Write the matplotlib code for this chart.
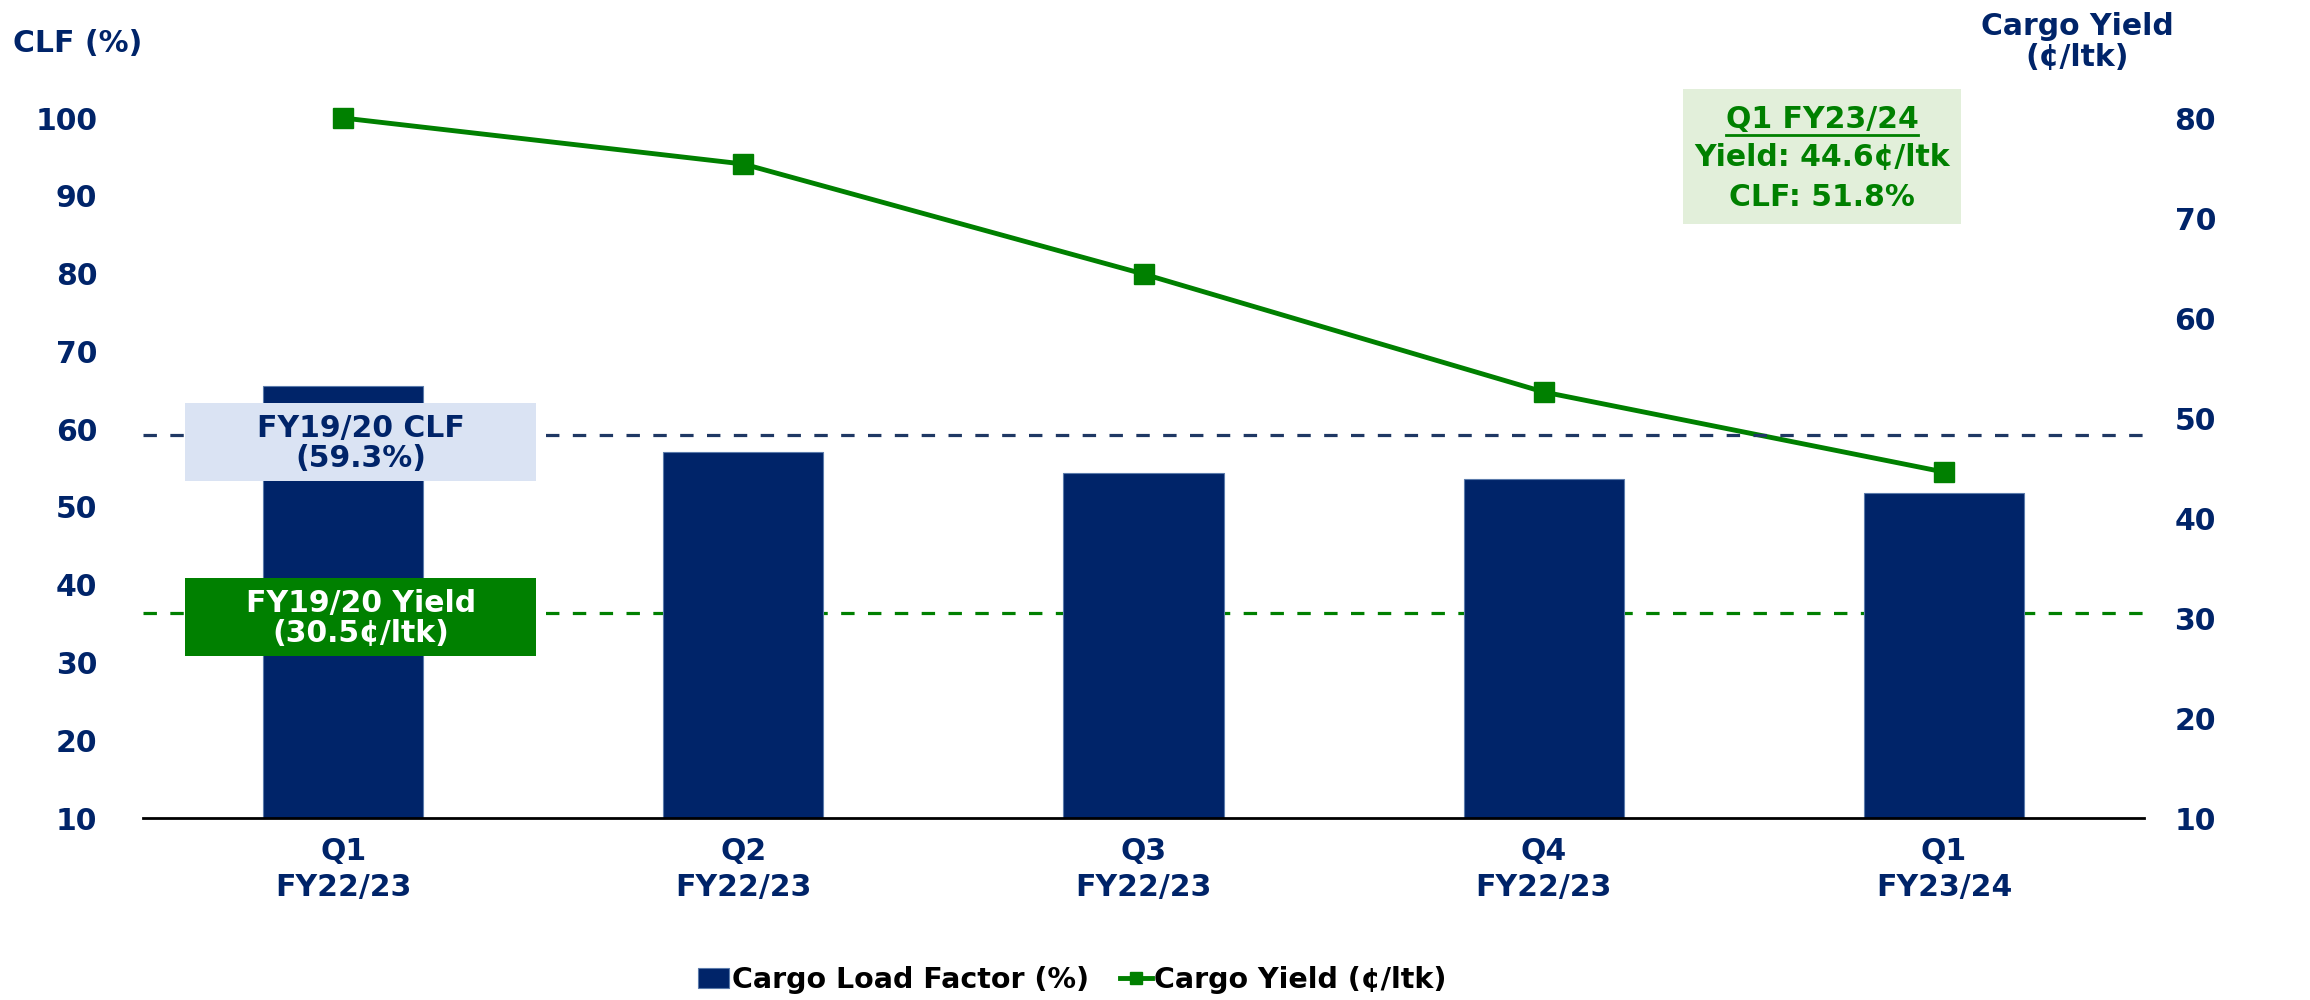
import matplotlib.pyplot as plt
from matplotlib.patches import Rectangle
from matplotlib.lines import Line2D

# data
quarters = ['Q1\nFY22/23', 'Q2\nFY22/23', 'Q3\nFY22/23', 'Q4\nFY22/23', 'Q1\nFY23/24']
cargo_load_factor = [65.6, 57.0, 54.3, 53.6, 51.8]
cargo_yield = [80.0, 75.4, 64.4, 52.6, 44.6]
clf_fy1920 = 59.3
yield_fy1920 = 30.5

NAVY = '#002469'
GREEN = '#008000'
FS = 21.5

plt.rcParams['font.family'] = ['DejaVu Sans']


def main():
    fig = plt.figure(figsize=(23.1, 10), dpi=100)
    ax = fig.add_axes([143 / 2310, 0.182, (2144 - 143) / 2310, 0.70])
    ax2 = ax.twinx()

    x = range(len(quarters))
    ax.bar(x, cargo_load_factor, width=0.4, color=NAVY, edgecolor='#5b7bab',
           linewidth=0.8, zorder=2, label='Cargo Load Factor (%)')
    ax.axhline(clf_fy1920, color='#1f3864', lw=2.3, dashes=(4.2, 4.2), zorder=1)

    ax2.axhline(yield_fy1920, color=GREEN, lw=2.3, dashes=(4.2, 4.2), zorder=1)
    ax2.plot(x, cargo_yield, color=GREEN, lw=3.5, marker='s', markersize=14,
             zorder=3, clip_on=False, label='Cargo Yield (¢/ltk)')

    ax.set_xlim(-0.5, 4.5)
    ax.set_ylim(10, 100)
    ax2.set_ylim(10, 80)
    ax.set_yticks(range(10, 101, 10))
    ax2.set_yticks(range(10, 81, 10))
    ax.set_xticks(list(x))
    ax.set_xticklabels(quarters, linespacing=1.3)

    for a in (ax, ax2):
        for s in ('top', 'left', 'right', 'bottom'):
            a.spines[s].set_visible(False)
        a.tick_params(length=0)
    ax.spines['bottom'].set_visible(True)
    ax.spines['bottom'].set_linewidth(2)
    ax.spines['bottom'].set_zorder(5)

    ax.tick_params(axis='y', pad=33, labelsize=FS, labelcolor=NAVY)
    ax2.tick_params(axis='y', pad=22, labelsize=FS, labelcolor=NAVY)
    ax.tick_params(axis='x', pad=14, labelsize=FS, labelcolor=NAVY)
    for lbl in ax.get_yticklabels() + ax2.get_yticklabels() + ax.get_xticklabels():
        lbl.set_fontweight('bold')

    ax.set_zorder(ax2.get_zorder() + 1)
    ax.patch.set_visible(False)

    # FY19/20 reference boxes
    ax.add_patch(Rectangle((-0.395, 53.33), 0.8775, 10.03, facecolor='#dae3f3',
                           edgecolor='none', zorder=4))
    ax.text(0.044, 58.2, 'FY19/20 CLF\n(59.3%)', ha='center', va='center',
            fontsize=FS, fontweight='bold', color=NAVY, linespacing=1.05, zorder=5)
    ax.add_patch(Rectangle((-0.395, 30.83), 0.8775, 10.03, facecolor=GREEN,
                           edgecolor='none', zorder=4))
    ax.text(0.044, 35.7, 'FY19/20 Yield\n(30.5¢/ltk)', ha='center', va='center',
            fontsize=FS, fontweight='bold', color='white', linespacing=1.05, zorder=5)

    # latest quarter callout
    fig.add_artist(Rectangle((1683 / 2310, 1 - 224 / 1000), 278 / 2310, 135 / 1000,
                             transform=fig.transFigure, facecolor='#e2efda',
                             edgecolor='none'))
    cx = 1822 / 2310
    head = fig.text(cx, 1 - 119 / 1000, 'Q1 FY23/24', ha='center', va='center',
                    fontsize=FS, fontweight='bold', color=GREEN)
    fig.text(cx, 1 - 158 / 1000, 'Yield: 44.6¢/ltk', ha='center', va='center',
             fontsize=FS, fontweight='bold', color=GREEN)
    fig.text(cx, 1 - 197 / 1000, 'CLF: 51.8%', ha='center', va='center',
             fontsize=FS, fontweight='bold', color=GREEN)
    # underline the heading
    fig.canvas.draw()
    bb = head.get_window_extent().transformed(fig.transFigure.inverted())
    fig.add_artist(Line2D([bb.x0, bb.x1], [1 - 135 / 1000] * 2,
                          color=GREEN, lw=2, transform=fig.transFigure))

    # axis titles
    fig.text(13 / 2310, 1 - 43 / 1000, 'CLF (%)', ha='left', va='center',
             fontsize=FS, fontweight='bold', color=NAVY)
    fig.text(2077 / 2310, 1 - 42 / 1000, 'Cargo Yield\n(¢/ltk)', ha='center',
             va='center', fontsize=FS, fontweight='bold', color=NAVY, linespacing=1.05)

    h1, l1 = ax.get_legend_handles_labels()
    h2, l2 = ax2.get_legend_handles_labels()
    fig.legend(h1 + h2, l1 + l2, loc='center left', bbox_to_anchor=(672 / 2310, 0.02),
               ncol=2, frameon=False, columnspacing=1.1, handlelength=1.1,
               handletextpad=0.1, markerscale=0.6,
               prop={'weight': 'bold', 'size': 20.5})

    fig.savefig('out.png', dpi=100)


if __name__ == "__main__":
    main()
